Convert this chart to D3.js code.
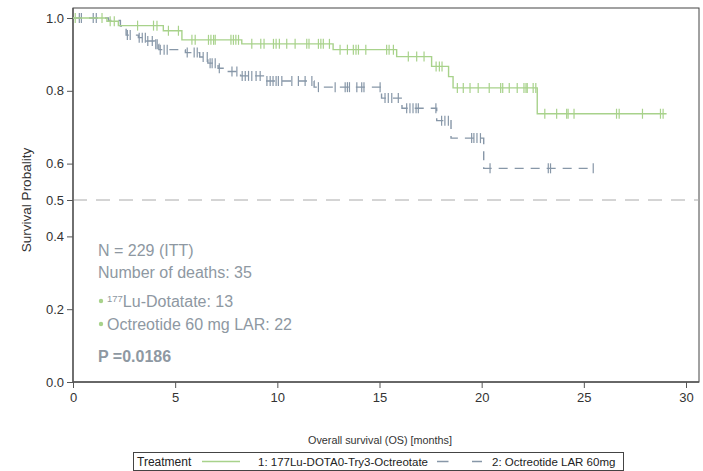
<!DOCTYPE html>
<html>
<head>
<meta charset="utf-8">
<script src="https://cdn.jsdelivr.net/npm/d3@7"></script>
<style>
  html, body { margin: 0; padding: 0; background: #fff; }
  svg { display: block; font-family: "Liberation Sans", Arial, Helvetica, sans-serif; }
</style>
</head>
<body>
<svg id="chart" width="703" height="471"></svg>
<script>
// ---------- DATA ----------
const xTicks = [0, 5, 10, 15, 20, 25, 30];
const yTicks = [0.0, 0.2, 0.4, 0.5, 0.6, 0.8, 1.0];

// Group 1: 177Lu-DOTA0-Try3-Octreotate (step times in months, survival after step)
const luTimes = [0, 1.66, 2.22, 4.42, 5.33, 8.26, 12.73, 15.84, 17.55, 18.38, 18.60, 22.72];
const luSurv  = [1, 0.991, 0.979, 0.965, 0.940, 0.929, 0.913, 0.894, 0.867, 0.839, 0.808, 0.737];
const luEnd = 29.05;
const luCensor = [0.11, 1.42, 1.82, 2.02, 3.16, 3.94, 4.11, 4.67, 5.16, 5.82, 5.98, 6.63, 6.75, 6.88, 6.96,
  7.73, 7.85, 7.97, 8.10, 8.75, 9.19, 9.35, 9.81, 9.94, 10.10, 10.46, 10.87, 11.44, 11.55, 12.01, 12.13,
  12.25, 12.55, 13.07, 13.43, 13.72, 13.85, 13.97, 14.33, 15.35, 15.47, 15.68, 16.41, 16.82, 17.18,
  17.77, 17.93, 18.06, 18.81, 19.10, 19.43, 19.83, 20.37, 20.93, 21.03, 21.35, 21.74, 22.07, 22.17,
  22.23, 22.52, 22.65, 23.09, 23.67, 24.16, 24.23, 24.52, 26.60, 26.73, 27.87, 28.75, 28.88];

// Group 2: Octreotide LAR 60mg
const octTimes = [0, 1.74, 2.32, 2.6, 3.2, 3.6, 4.0, 4.2, 5.5, 6.2, 6.6, 7.1, 7.6, 8.2, 9.4, 11.8, 15.1, 16.1, 17.8, 18.5, 20.1];
const octSurv  = [1, 0.993, 0.978, 0.953, 0.946, 0.937, 0.928, 0.913, 0.905, 0.893, 0.876, 0.862, 0.853, 0.841, 0.827, 0.810, 0.780, 0.752, 0.718, 0.670, 0.587];
const octEnd = 25.46;
const octCensor = [0.31, 0.41, 0.99, 1.14, 2.66, 2.80, 3.24, 3.39, 3.54, 3.66, 3.88, 4.05, 4.12, 4.27, 4.46, 4.61,
  5.59, 5.93, 6.08, 6.37, 6.57, 6.71, 6.81, 6.96, 7.16, 7.78, 8.02, 8.28, 8.43, 8.59, 8.75, 8.96, 9.16,
  9.49, 9.65, 9.79, 9.94, 10.05, 10.22, 10.71, 11.03, 11.36, 11.69, 12.01, 12.83, 13.32, 13.43, 13.53,
  13.89, 14.13, 14.24, 15.03, 15.27, 15.43, 15.60, 15.92, 16.33, 16.49, 16.64, 16.79, 16.90, 17.76,
  18.04, 18.20, 18.37, 19.51, 19.62, 19.77, 19.94, 20.41, 23.26, 23.37, 25.46];

const legendLabels = ["1: 177Lu-DOTA0-Try3-Octreotate", "2: Octreotide LAR 60mg"];
const annoLines = ["N = 229 (ITT)", "Number of deaths: 35"];
const deathsLu = 13, deathsOct = 22;
const pValue = "0.0186";

// ---------- LAYOUT ----------
const svg = d3.select("#chart");
const pLeft = 73, pRight = 699, pTop = 8, pBottom = 382;
const x = d3.scaleLinear().domain([0, 30]).range([73, 686]);
const y = d3.scaleLinear().domain([0, 1]).range([382, 18]);

const green = "#a8d28b";
const slate = "#8797a8";
const annoColor = "#8e98a2";
const axisColor = "#555";

// frame
svg.append("rect").attr("x", pLeft).attr("y", pTop).attr("width", pRight - pLeft).attr("height", pBottom - pTop)
  .attr("fill", "none").attr("stroke", "#444").attr("stroke-width", 1);

// reference line at 0.5
svg.append("line").attr("x1", pLeft).attr("x2", pRight).attr("y1", y(0.5)).attr("y2", y(0.5))
  .attr("stroke", "#aaa").attr("stroke-width", 1).attr("stroke-dasharray", "14,9");

// axes
const xAxis = svg.append("g").attr("transform", `translate(0,${pBottom})`)
  .call(d3.axisBottom(x).tickValues(xTicks).tickFormat(d3.format("d")).tickSize(6).tickSizeOuter(0));
const yAxis = svg.append("g").attr("transform", `translate(${pLeft},0)`)
  .call(d3.axisLeft(y).tickValues(yTicks).tickFormat(d3.format(".1f")).tickSize(6).tickSizeOuter(0));
[xAxis, yAxis].forEach(g => {
  g.select(".domain").remove();
  g.selectAll("line").attr("stroke", axisColor);
  g.selectAll("text").attr("fill", "#333").style("font-size", "13px").style("font-family", "Liberation Sans, Arial, sans-serif");
});
xAxis.selectAll("text").attr("dy", "0.95em").attr("y", 8);
yAxis.selectAll("text").attr("x", -9);
svg.append("line").attr("x1", pLeft).attr("x2", pLeft).attr("y1", pTop).attr("y2", pBottom).attr("stroke", axisColor).attr("stroke-width", 1.3);
svg.append("line").attr("x1", pLeft).attr("x2", pRight).attr("y1", pBottom).attr("y2", pBottom).attr("stroke", axisColor).attr("stroke-width", 1.3);

// axis titles
svg.append("text").attr("transform", `translate(31,${y(0.5)}) rotate(-90)`).attr("text-anchor", "middle")
  .attr("fill", "#333").style("font-size", "13.5px").text("Survival Probality");
svg.append("text").attr("x", 380).attr("y", 444).attr("text-anchor", "middle")
  .attr("fill", "#333").style("font-size", "10.8px").text("Overall survival (OS) [months]");

// ---------- CURVES ----------
function drawKM(times, surv, end, censor, color, dash) {
  const pts = times.map((t, i) => [t, surv[i]]);
  pts.push([end, surv[surv.length - 1]]);
  const line = d3.line().x(d => x(d[0])).y(d => y(d[1])).curve(d3.curveStepAfter);
  svg.append("path").datum(pts).attr("d", line).attr("fill", "none")
    .attr("stroke", color).attr("stroke-width", 1.4).attr("stroke-dasharray", dash);
  const survAt = t => { let s = 1; times.forEach((tt, i) => { if (tt <= t) s = surv[i]; }); return s; };
  svg.append("g").selectAll("line").data(censor).join("line")
    .attr("x1", d => x(d)).attr("x2", d => x(d))
    .attr("y1", d => y(survAt(d)) - 5).attr("y2", d => y(survAt(d)) + 5)
    .attr("stroke", color).attr("stroke-width", 1.2);
}
drawKM(octTimes, octSurv, octEnd, octCensor, slate, "9,7");
drawKM(luTimes, luSurv, luEnd, luCensor, green, null);

// ---------- ANNOTATION ----------
const anno = svg.append("g").attr("fill", annoColor).style("font-size", "16px");
anno.append("text").attr("x", 98).attr("y", 256).text(annoLines[0]);
anno.append("text").attr("x", 98).attr("y", 278).text(annoLines[1]);
anno.append("circle").attr("cx", 101).attr("cy", 301).attr("r", 2.2).attr("fill", green);
const t3 = anno.append("text").attr("x", 107).attr("y", 307);
t3.append("tspan").style("font-size", "9.5px").attr("dy", -5.5).text("177");
t3.append("tspan").attr("dy", 5.5).text("Lu-Dotatate: " + deathsLu);
anno.append("circle").attr("cx", 101).attr("cy", 324).attr("r", 2.2).attr("fill", green);
anno.append("text").attr("x", 107).attr("y", 330).text("Octreotide 60 mg LAR: " + deathsOct);
anno.append("text").attr("x", 98).attr("y", 362).attr("font-weight", "bold").text("P =" + pValue);

// ---------- LEGEND ----------
const lg = svg.append("g");
lg.append("rect").attr("x", 133.5).attr("y", 452.5).attr("width", 490).attr("height", 18)
  .attr("fill", "none").attr("stroke", "#444").attr("stroke-width", 1);
lg.append("text").attr("x", 137).attr("y", 466).attr("fill", "#222").style("font-size", "12px").text("Treatment");
lg.append("line").attr("x1", 202).attr("x2", 240).attr("y1", 461.5).attr("y2", 461.5).attr("stroke", green).attr("stroke-width", 1.4);
lg.append("text").attr("x", 258).attr("y", 466).attr("fill", "#222").style("font-size", "11.5px").text(legendLabels[0]);
lg.append("line").attr("x1", 437).attr("x2", 482).attr("y1", 461.5).attr("y2", 461.5).attr("stroke", slate)
  .attr("stroke-width", 1.4).attr("stroke-dasharray", "11.5,23.5");
lg.append("text").attr("x", 492).attr("y", 466).attr("fill", "#222").style("font-size", "11.5px").text(legendLabels[1]);
</script>
</body>
</html>
